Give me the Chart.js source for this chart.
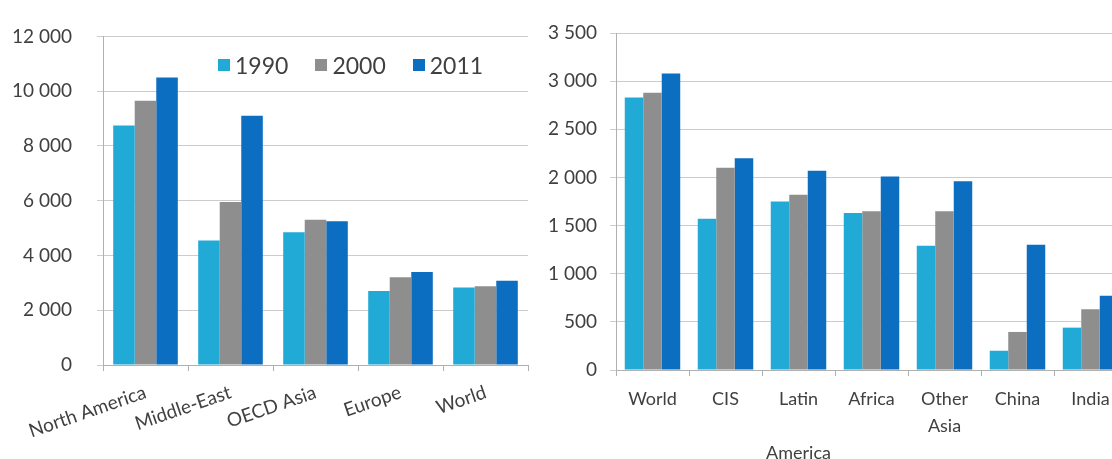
<!DOCTYPE html>
<html>
<head>
<meta charset="utf-8">
<script src="https://cdn.jsdelivr.net/npm/chart.js@4.4.0/dist/chart.umd.min.js"></script>
<style>
    html, body { margin: 0; padding: 0; background: #fff; overflow: hidden; width: 1112px; height: 459px; }
    #left { position: absolute; left: 0; top: 0; width: 540px; height: 459px; }
    #right { position: absolute; left: 520px; top: 0; width: 620px; height: 459px; }
    #legend {
        position: absolute; left: 218px; top: 50px; height: 30px;
        display: flex; align-items: center; gap: 27px;
        font-family: Lato, sans-serif; font-size: 23px; color: #404040;
    }
    #legend .item { display: flex; align-items: center; }
    #legend .box { width: 12px; height: 12px; margin-right: 5px; }
</style>
</head>
<body>
<div id="left"><canvas id="leftChart"></canvas></div>
<div id="right"><canvas id="rightChart"></canvas></div>
<div id="legend"></div>
<script>
// values
const years = ['1990', '2000', '2011'];
const yearColors = ['#21aad6', '#8e8e8e', '#0c6ec1'];

const leftCategories = ['North America', 'Middle-East', 'OECD Asia', 'Europe', 'World'];
const left1990 = [8750, 4550, 4850, 2700, 2830];
const left2000 = [9650, 5950, 5300, 3200, 2880];
const left2011 = [10500, 9100, 5250, 3400, 3080];
const leftTicks = [0, 2000, 4000, 6000, 8000, 10000, 12000];

const rightCategories = ['World', 'CIS', ['Latin', '', 'America'], 'Africa', ['Other', 'Asia'], 'China', 'India'];
const right1990 = [2830, 1570, 1750, 1630, 1290, 200, 440];
const right2000 = [2880, 2100, 1820, 1650, 1650, 395, 630];
const right2011 = [3080, 2200, 2070, 2010, 1960, 1300, 770];
const rightTicks = [0, 500, 1000, 1500, 2000, 2500, 3000, 3500];

const textColor = '#404040';
const gridColor = '#cccccc';
const axisColor = '#b0b0b0';

const spaced = v => String(v).replace(/\B(?=(\d{3})+(?!\d))/g, ' ');

function makeDatasets(series) {
    return series.map((data, i) => ({
        label: years[i],
        data: data,
        backgroundColor: yearColors[i],
        borderWidth: 0,
        barPercentage: 1.0,
        categoryPercentage: 0.76
    }));
}

function yScale(ticks, width, pad) {
    return {
        min: ticks[0],
        max: ticks[ticks.length - 1],
        afterFit: s => { s.width = width; },
        afterBuildTicks: s => { s.ticks = ticks.map(v => ({ value: v })); },
        grid: { color: gridColor, tickLength: 6, drawTicks: true },
        border: { color: axisColor },
        ticks: {
            color: textColor,
            padding: pad,
            font: { family: 'Lato', size: 19 },
            callback: v => spaced(v)
        }
    };
}

// Left chart
new Chart(document.getElementById('leftChart'), {
    type: 'bar',
    data: {
        labels: leftCategories,
        datasets: makeDatasets([left1990, left2000, left2011])
    },
    options: {
        responsive: true,
        maintainAspectRatio: false,
        animation: false,
        layout: { padding: { top: 25, right: 12, left: 0, bottom: 0 } },
        scales: {
            x: {
                afterFit: s => { s.height = 94; },
                grid: { drawOnChartArea: false, tickLength: 6, color: axisColor },
                border: { color: axisColor },
                ticks: {
                    color: textColor,
                    autoSkip: false,
                    minRotation: 19,
                    maxRotation: 19,
                    padding: 10,
                    font: { family: 'Lato', size: 19 }
                }
            },
            y: yScale(leftTicks, 103, 25)
        },
        plugins: {
            legend: { display: false },
            tooltip: { enabled: false }
        }
    }
});

// Right chart (cut off at the right edge like the original)
new Chart(document.getElementById('rightChart'), {
    type: 'bar',
    data: {
        labels: rightCategories,
        datasets: makeDatasets([right1990, right2000, right2011])
    },
    options: {
        responsive: true,
        maintainAspectRatio: false,
        animation: false,
        layout: { padding: { top: 33, right: 13, left: 0, bottom: 0 } },
        scales: {
            x: {
                afterFit: s => { s.height = 89; },
                grid: { drawOnChartArea: false, tickLength: 6, color: axisColor },
                border: { color: axisColor },
                ticks: {
                    color: textColor,
                    autoSkip: false,
                    maxRotation: 0,
                    padding: 10,
                    font: { family: 'Lato', size: 18, lineHeight: 1.5 }
                }
            },
            y: yScale(rightTicks, 96, 13)
        },
        plugins: {
            legend: { display: false },
            tooltip: { enabled: false }
        }
    }
});

// legend sits inside the left plot, built from the same series names/colours
const legendEl = document.getElementById('legend');
years.forEach((y, i) => {
    const item = document.createElement('div');
    item.className = 'item';
    item.innerHTML = '<span class="box" style="background:' + yearColors[i] + '"></span>' + y;
    legendEl.appendChild(item);
});
</script>
</body>
</html>
